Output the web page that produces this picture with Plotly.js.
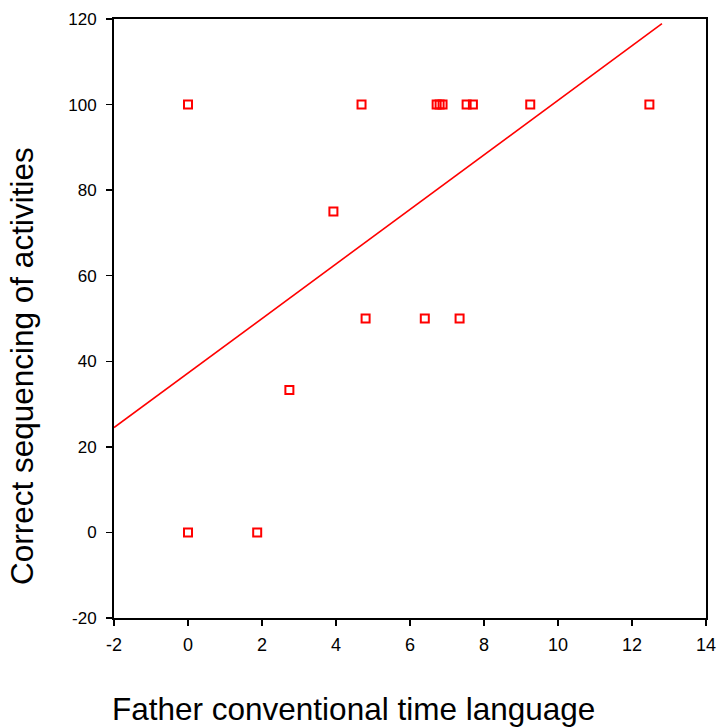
<!DOCTYPE html>
<html>
<head>
<meta charset="utf-8">
<script src="https://cdn.plot.ly/plotly-3.0.1.min.js"></script>
<style>html,body{margin:0;padding:0;background:#fff;}#chart{width:718px;height:727px;}</style>
</head>
<body>
<div id="chart"></div>
<script>
// Observed points
var fatherTimeLanguage = [0, 0, 1.87, 2.74, 3.93, 4.69, 4.80, 6.40, 6.72, 6.80, 6.88, 7.34, 7.53, 7.70, 9.25, 12.47];
var correctSequencing  = [100, 0, 0, 33.3, 75, 100, 50, 50, 100, 100, 100, 50, 100, 100, 100, 100];
// Fit line endpoints
var fitX = [-2, 12.81];
var fitY = [24.5, 118.9];

var xTickVals = [-2, 0, 2, 4, 6, 8, 10, 12, 14];
var yTickVals = [-20, 0, 20, 40, 60, 80, 100, 120];

var xTitle = "Father conventional time language";
var yTitle = "Correct sequencing of activities";

var font = "Liberation Sans, Arial, sans-serif";

var traces = [
  {
    x: fitX, y: fitY, mode: "lines", type: "scatter",
    line: {color: "#ff0000", width: 1.6}, hoverinfo: "skip", showlegend: false
  },
  {
    x: fatherTimeLanguage, y: correctSequencing, mode: "markers", type: "scatter",
    marker: {symbol: "square-open", size: 8, color: "#ff0000", line: {color: "#ff0000", width: 2}},
    showlegend: false
  }
];

var layout = {
  width: 718, height: 727,
  margin: {l: 114, r: 12, t: 19, b: 109},
  paper_bgcolor: "#ffffff", plot_bgcolor: "#ffffff",
  font: {family: font, color: "#000000"},
  showlegend: false,
  xaxis: {
    range: [-2, 14], tickvals: xTickVals, ticktext: xTickVals.map(String),
    showgrid: false, zeroline: false,
    showline: true, mirror: true, linecolor: "#000000", linewidth: 2,
    ticks: "outside", ticklen: 6, tickwidth: 1.5, tickcolor: "#000000",
    ticklabelstandoff: 3,
    tickfont: {size: 18, family: font, color: "#000000"}
  },
  yaxis: {
    range: [-20, 120], tickvals: yTickVals, ticktext: yTickVals.map(String),
    showgrid: false, zeroline: false,
    showline: true, mirror: true, linecolor: "#000000", linewidth: 2,
    ticks: "outside", ticklen: 6, tickwidth: 1.5, tickcolor: "#000000",
    ticklabelstandoff: 6,
    tickfont: {size: 17, family: font, color: "#000000"}
  },
  annotations: [
    {
      text: xTitle, xref: "paper", yref: "paper", x: 0.405, y: -0.152,
      xanchor: "center", yanchor: "middle", showarrow: false,
      font: {size: 31.5, family: font, color: "#000000"}
    },
    {
      text: yTitle, xref: "paper", yref: "paper", x: -0.155, y: 0.421,
      xanchor: "center", yanchor: "middle", showarrow: false, textangle: -90,
      font: {size: 31.5, family: font, color: "#000000"}
    }
  ]
};

Plotly.newPlot("chart", traces, layout, {displayModeBar: false, staticPlot: true});
</script>
</body>
</html>
